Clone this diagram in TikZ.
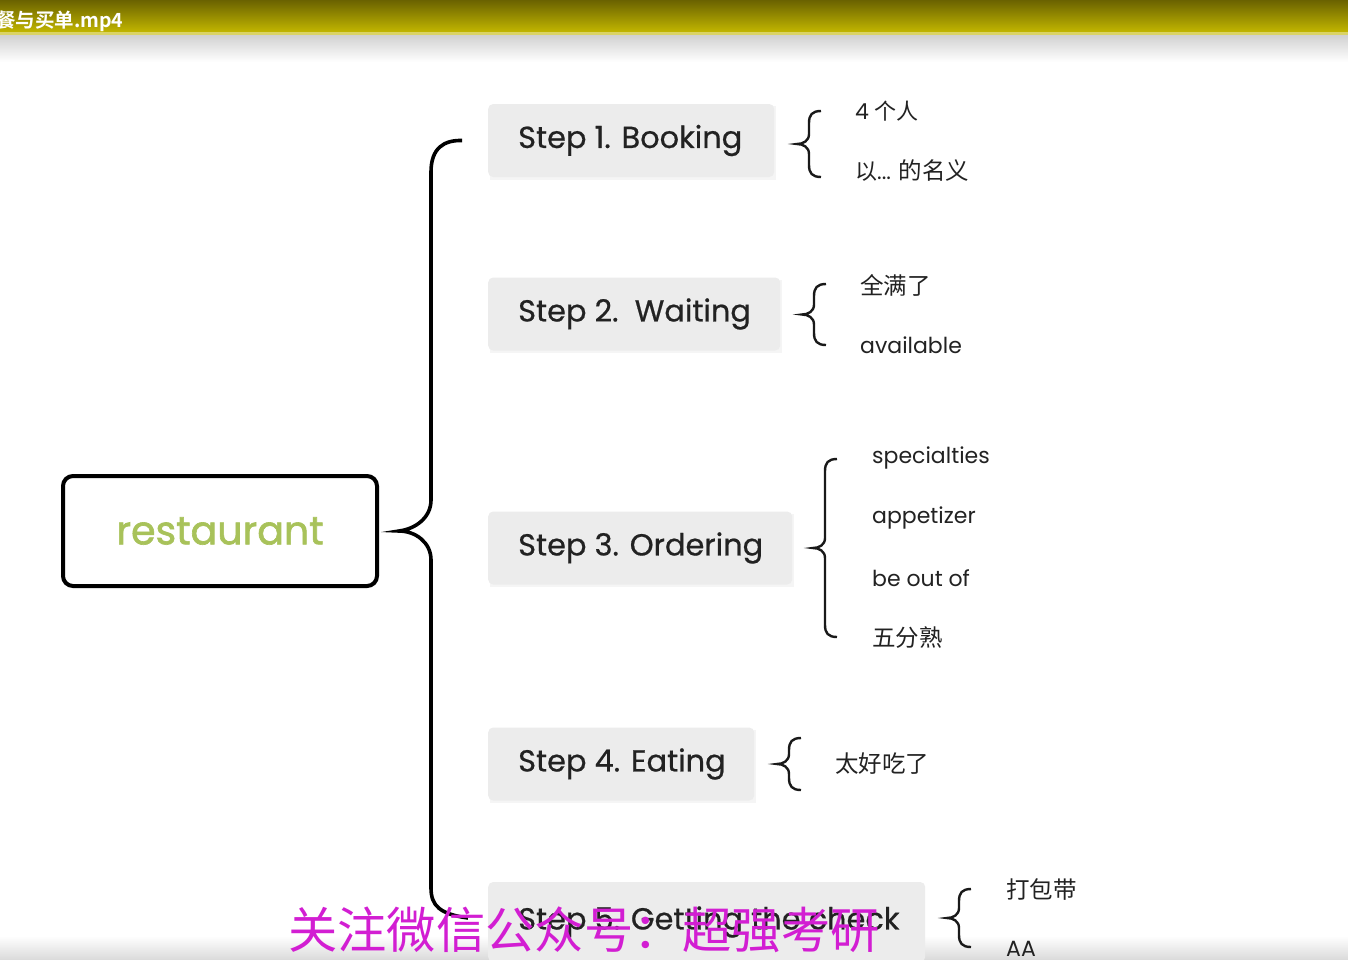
\documentclass[tikz,border=0pt]{standalone}
\usepackage{fontspec}
\setmainfont{Poppins}
\newfontfamily\popmed{Poppins}[FakeBold=0.6]
\newfontfamily\popsemi{Poppins}[FakeBold=1.6]
\newfontfamily\cjk{Noto Sans CJK SC}
\newfontfamily\cjkbold{Noto Sans CJK SC}[BoldFont={* Bold}]
\usetikzlibrary{positioning}
\definecolor{stepfill}{HTML}{ECECEC}
\definecolor{shadowc}{HTML}{F5F5F5}
\definecolor{rootgreen}{HTML}{A8C25A}
\definecolor{txt}{HTML}{222222}
\definecolor{wm}{HTML}{D21ED2}
\definecolor{bartop}{HTML}{6A6200}
\definecolor{barbot}{HTML}{C2B600}
\newcommand\smallbrace[3]{% x, ytop, ybot
  \draw[bracel] (#1+24,#2) .. controls (#1+15,#2) and (#1+12,#2+4) .. (#1+12,#2+12)
    -- (#1+12,{(#2+#3)/2-10}) .. controls (#1+12,{(#2+#3)/2-3}) and (#1+6,{(#2+#3)/2}) .. (#1,{(#2+#3)/2})
    .. controls (#1+6,{(#2+#3)/2}) and (#1+12,{(#2+#3)/2+3}) .. (#1+12,{(#2+#3)/2+10})
    -- (#1+12,#3-12) .. controls (#1+12,#3-4) and (#1+15,#3) .. (#1+24,#3);}
\newcommand\steptext[2]{\raisebox{-3pt}{\makebox[#1pt][l]{#2}}}
\tikzset{
  stepbox/.style={fill=stepfill, rounded corners=5pt, minimum height=73pt, anchor=west,
    text=txt, font=\popmed\fontsize{30.4}{34}\selectfont, inner xsep=30pt},
  item/.style={anchor=west, text=txt, font=\fontsize{22}{26}\selectfont, inner sep=0pt},
  citem/.style={anchor=west, text=txt, font=\cjk\fontsize{23.5}{26}\selectfont, inner sep=0pt},
  bracel/.style={line width=2.4pt, black!90},
  bigbrace/.style={line width=3.6pt, black},
}
\begin{document}
\begin{tikzpicture}[x=1pt,y=-1pt]
\useasboundingbox (0,0) rectangle (1348,959);
\fill[white] (0,0) rectangle (1348,959);
% title bar
\shade[top color=bartop, bottom color=barbot] (0,0) rectangle (1348,32);
\fill[barbot!60!white] (0,32) rectangle (1348,35);
\shade[top color=black!18, bottom color=white] (0,35) rectangle (1348,62);
\begin{scope}
\clip (0,0) rectangle (1348,35);
\node[anchor=west, inner sep=0pt, text=white, font=\cjkbold\bfseries\fontsize{19.5}{22}\selectfont] (title) at (-4,21) {餐与买单.mp4};
\end{scope}
% bottom bar
\shade[top color=white, bottom color=black!14] (0,936) rectangle (1348,959);
% root
\node[draw=black, line width=4pt, rounded corners=10pt, minimum width=314pt, minimum height=110pt,
  text=rootgreen, font=\popsemi\fontsize{39.5}{42}\selectfont] (root) at (220,531) {restaurant};
% steps
\fill[shadowc] (490,106) rectangle (776,180);
\node[stepbox] (s1) at (488,140.5) {\steptext{226}{Step 1. Booking}};
\fill[shadowc] (490,280) rectangle (782,353);
\node[stepbox] (s2) at (488,314) {\steptext{232}{Step 2.\ \ Waiting}};
\fill[shadowc] (490,514) rectangle (794,587);
\node[stepbox] (s3) at (488,548) {\steptext{244}{Step 3. Ordering}};
\fill[shadowc] (490,730) rectangle (756,803);
\node[stepbox] (s4) at (488,764) {\steptext{206}{Step 4. Eating}};
\node[stepbox, minimum height=80pt] (s5) at (488,922) {\steptext{377}{Step 5. Getting the check}};
% big brace
\coordinate (cusp) at ([xshift=20pt]root.east);
\coordinate (btop) at ([yshift=0pt]s1.west);
\coordinate (bbot) at (468,918);
\draw[bigbrace] ([xshift=-26pt]btop) .. controls (444,140) and (431,148) .. (431,172)
  -- (431,500) .. controls (431,518) and (415,529) .. (cusp)
  .. controls (415,531) and (431,542) .. (431,560)
  -- (431,888) .. controls (431,906) and (440,914) .. (bbot);
% small braces and items
\smallbrace{797}{111}{177}
\node[item] (i11) at (855,111) {4 {\cjk 个人}};
\node[item] (i12) at (855,171) {{\cjk 以}... {\cjk\fontsize{23.5}{26}\selectfont 的名义}};
\smallbrace{802}{284}{345}
\node[citem] (i21) at (860,285) {全满了};
\node[item] (i22) at (860,345) {available};
\smallbrace{813}{459}{637}
\node[item] (i31) at (872,458) {specialties};
\node[item] (i32) at (872,518) {appetizer};
\node[item] (i33) at (872,578) {be out of};
\node[citem] (i34) at (872,638) {五分熟};
\smallbrace{777}{738}{790}
\node[citem] (i41) at (835,764) {太好吃了};
\smallbrace{947}{889}{947}
\node[citem] (i51) at (1006,889) {打包带};
\node[item] (i52) at (1006,949) {AA};
% watermark
\node[anchor=west, inner sep=0pt, text=wm, font=\cjk\fontsize{49.3}{52}\selectfont] (wmk) at (288,930) {关注微信公众号：超强考研};
\end{tikzpicture}
\end{document}
